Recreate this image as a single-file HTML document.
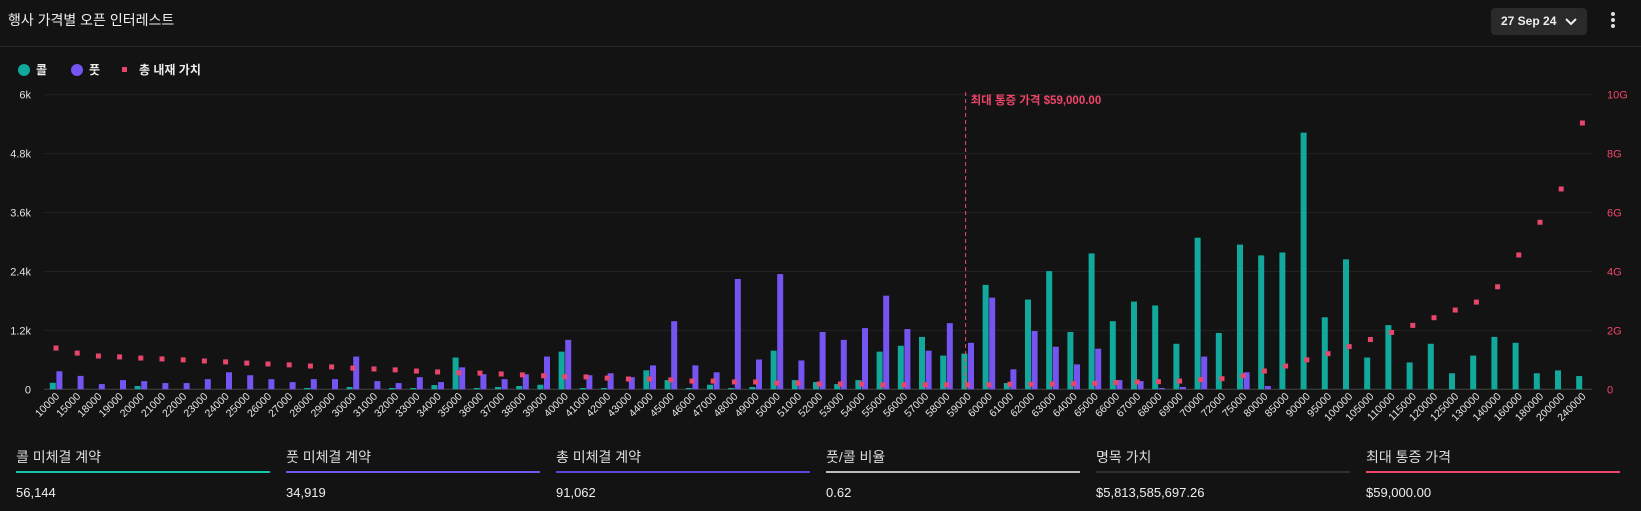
<!DOCTYPE html>
<html><head><meta charset="utf-8">
<style>
html,body{margin:0;padding:0;background:#131313;}
body{width:1641px;height:511px;overflow:hidden;font-family:"Liberation Sans","Noto Sans CJK KR",sans-serif;color:#e6e6e6;position:relative;}
.hdr{position:absolute;left:0;top:0;width:1641px;height:46px;border-bottom:1px solid #262626;}
.title{position:absolute;left:8px;top:10px;font-size:14px;color:#f0f0f0;}
.datebtn{position:absolute;left:1491px;top:8px;width:96px;height:27px;background:#2a2a2a;border-radius:4px;font-size:12px;font-weight:bold;color:#eee;line-height:27px;padding-left:10px;box-sizing:border-box;}
.kebab{position:absolute;left:1608px;top:10px;width:10px;height:24px;}
.kebab i{display:block;width:4px;height:4px;border-radius:2px;background:#ddd;margin:2px auto 2px;}
.legend{position:absolute;top:62px;left:18px;font-size:12px;font-weight:bold;color:#eee;}
.li{position:absolute;top:0;white-space:nowrap;line-height:16px;}
.dot{display:inline-block;width:12px;height:12px;border-radius:6px;vertical-align:-2px;margin-right:6px;}
.stat{position:absolute;top:447px;width:254px;}
.stat .lab{font-size:14px;color:#ddd;height:20px;}
.stat .line{height:2px;margin-top:4px;}
.stat .val{font-size:13px;color:#eee;margin-top:12px;}
</style></head><body>
<div class="hdr">
  <div class="title">행사 가격별 오픈 인터레스트</div>
  <div class="datebtn">27 Sep 24 <svg width="12" height="8" style="position:absolute;right:10px;top:10px"><path d="M1 1 L6 6 L11 1" stroke="#eee" stroke-width="2" fill="none"/></svg></div>
  <div class="kebab"><i></i><i></i><i></i></div>
</div>
<div class="legend">
  <div class="li" style="left:0"><span class="dot" style="background:#10a99c"></span>콜</div>
  <div class="li" style="left:53px"><span class="dot" style="background:#7554f2"></span>풋</div>
  <div class="li" style="left:104px"><span style="display:inline-block;width:5px;height:5px;background:#e8466a;vertical-align:2px;margin-right:12px"></span>총 내재 가치</div>
</div>
<svg id="chart" width="1641" height="430" style="position:absolute;left:0;top:0"></svg>

<div class="stat" style="left:16px"><div class="lab">콜 미체결 계약</div><div class="line" style="background:#10c9a8"></div><div class="val">56,144</div></div>
<div class="stat" style="left:286px"><div class="lab">풋 미체결 계약</div><div class="line" style="background:#7554f2"></div><div class="val">34,919</div></div>
<div class="stat" style="left:556px"><div class="lab">총 미체결 계약</div><div class="line" style="background:#5a46d6"></div><div class="val">91,062</div></div>
<div class="stat" style="left:826px"><div class="lab">풋/콜 비율</div><div class="line" style="background:#bdbdbd"></div><div class="val">0.62</div></div>
<div class="stat" style="left:1096px"><div class="lab">명목 가치</div><div class="line" style="background:#2e2e2e"></div><div class="val">$5,813,585,697.26</div></div>
<div class="stat" style="left:1366px"><div class="lab">최대 통증 가격</div><div class="line" style="background:#f0466a"></div><div class="val">$59,000.00</div></div>

<script>
const strikes=[10000,15000,18000,19000,20000,21000,22000,23000,24000,25000,26000,27000,28000,29000,30000,31000,32000,33000,34000,35000,36000,37000,38000,39000,40000,41000,42000,43000,44000,45000,46000,47000,48000,49000,50000,51000,52000,53000,54000,55000,56000,57000,58000,59000,60000,61000,62000,63000,64000,65000,66000,67000,68000,69000,70000,72000,75000,80000,85000,90000,95000,100000,105000,110000,115000,120000,125000,130000,140000,160000,180000,200000,240000];
const calls=[133,0,0,0,67,0,0,0,0,0,0,0,27,0,47,0,27,27,87,647,27,47,67,93,767,27,27,0,387,187,27,93,27,47,787,187,147,107,187,767,887,1067,687,727,2127,127,1827,2407,1167,2767,1387,1787,1707,927,3087,1147,2947,2727,2787,5227,1467,2647,647,1307,547,927,327,687,1067,947,327,385,270];
const puts=[367,273,107,187,167,127,127,207,347,287,207,147,207,207,667,167,127,247,147,447,307,207,307,667,1007,287,327,247,487,1387,487,347,2247,607,2347,587,1167,1007,1247,1907,1227,787,1347,947,1867,407,1187,867,507,827,187,167,27,47,667,0,347,67,0,0,0,0,0,0,0,0,0,0,0,0,0,0,0];
const intrinsic=[1.40,1.23,1.13,1.10,1.06,1.03,1.00,0.96,0.93,0.89,0.86,0.83,0.79,0.76,0.72,0.69,0.66,0.62,0.59,0.56,0.55,0.52,0.49,0.46,0.43,0.42,0.38,0.35,0.35,0.32,0.28,0.28,0.25,0.25,0.21,0.21,0.18,0.18,0.18,0.15,0.15,0.15,0.15,0.15,0.15,0.17,0.17,0.18,0.19,0.20,0.23,0.25,0.26,0.28,0.33,0.36,0.46,0.62,0.79,1.0,1.21,1.45,1.69,1.93,2.17,2.43,2.69,2.96,3.48,4.56,5.67,6.8,9.04];
const leftTicks=[0,1200,2400,3600,4800,6000];
const leftTickLabels=["0","1.2k","2.4k","3.6k","4.8k","6k"];
const rightTicks=[0,2,4,6,8,10];
const rightTickLabels=["0","2G","4G","6G","8G","10G"];
const maxPain=59000;

const NS="http://www.w3.org/2000/svg";
const svg=document.getElementById('chart');
const X0=56,STEP=21.2,Y0=389.3,H=294.6,PL=44,PR=1592;
const xPos=i=>X0+i*STEP;
const yL=v=>Y0-v/6000*H;
const yR=g=>Y0-g/10*H;
function mk(tag,attrs,parent){const e=document.createElementNS(NS,tag);for(const k in attrs)e.setAttribute(k,attrs[k]);(parent||svg).appendChild(e);return e;}

leftTicks.forEach((t,i)=>{
  const g=mk('line',{x1:PL,x2:PR,y1:yL(t),y2:yL(t),stroke:t===0?'#444':'#222','stroke-width':1});
  
  
  const tx=mk('text',{x:31,y:yL(t)+4,'text-anchor':'end',fill:'#e0e0e0','font-size':11,'font-family':'Liberation Sans, sans-serif'});
  tx.textContent=leftTickLabels[i];
  
  
});
rightTicks.forEach((t,i)=>{
  const tx=mk('text',{x:1607,y:yR(t)+4,'text-anchor':'start',fill:'#f0466a','font-size':11,'font-family':'Liberation Sans, sans-serif'});
  tx.textContent=rightTickLabels[i];
  
  
});
strikes.forEach((s,i)=>{
  const x=xPos(i);
  if(calls[i]>0){const r=mk('rect',{x:x-6.2,y:yL(calls[i]),width:6,height:Y0-yL(calls[i]),fill:'#10a99c'});
    
    }
  if(puts[i]>0){const r=mk('rect',{x:x+0.4,y:yL(puts[i]),width:6,height:Y0-yL(puts[i]),fill:'#7554f2'});
    
    }
  const d=mk('rect',{x:x-2.5,y:yR(intrinsic[i])-2.5,width:5,height:5,fill:'#e8466a'});
  
  
  const lx=x+4,ly=397;
  const t=mk('text',{x:lx,y:ly,'text-anchor':'end',fill:'#e6e6e6','font-size':10.5,'font-family':'Liberation Sans, sans-serif',transform:`rotate(-45 ${lx} ${ly})`});
  t.textContent=s;
  
  
});
const mi=strikes.indexOf(maxPain);
const mx=xPos(mi)-2;
const ml=mk('line',{x1:mx,x2:mx,y1:92,y2:Y0,stroke:'#f0466a','stroke-width':1,'stroke-dasharray':'4,3'});


const mt=mk('text',{x:mx+5,y:104,fill:'#f0466a','font-size':11.5,'font-weight':'bold','font-family':'Liberation Sans, Noto Sans CJK KR, sans-serif'});
mt.textContent='최대 통증 가격 $59,000.00';


</script>
</body></html>
